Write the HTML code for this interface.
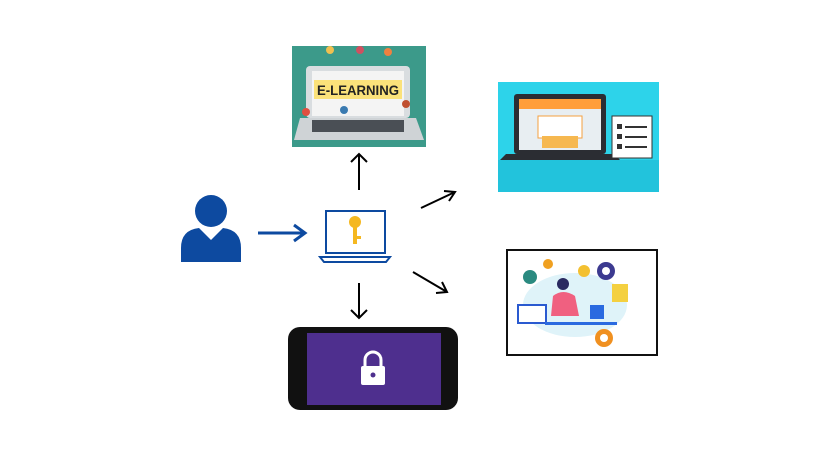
<!DOCTYPE html>
<html><head><style>body{margin:0;background:#fff}svg{display:block}</style></head><body>
<svg width="828" height="466" viewBox="0 0 828 466" xmlns="http://www.w3.org/2000/svg">
<rect width="828" height="466" fill="#fff"/>
<!-- E-learning -->
<rect x="292" y="46" width="134" height="101" fill="#3c9a8a"/>
<rect x="306" y="66" width="104" height="52" rx="4" fill="#d9dde0"/>
<rect x="312" y="71" width="92" height="45" fill="#f4f4f4"/>
<rect x="314" y="80" width="88" height="19" fill="#fbe27a"/>
<text x="317" y="95" font-family="Liberation Sans,sans-serif" font-size="14" font-weight="bold" textLength="82" lengthAdjust="spacingAndGlyphs" fill="#222">E-LEARNING</text>
<polygon points="300,118 416,118 424,140 294,140" fill="#cfd3d6"/>
<rect x="312" y="120" width="92" height="12" fill="#4a4f55"/>
<circle cx="330" cy="50" r="4" fill="#f0c050"/><circle cx="360" cy="50" r="4" fill="#d05060"/><circle cx="388" cy="52" r="4" fill="#f08040"/>
<circle cx="306" cy="112" r="4" fill="#e05040"/><circle cx="344" cy="110" r="4" fill="#3a7ab0"/><circle cx="406" cy="104" r="4" fill="#c05030"/>
<!-- top right -->
<rect x="498" y="82" width="161" height="110" fill="#2dd3ea"/>
<rect x="498" y="160" width="161" height="32" fill="#22c3dc"/>
<rect x="514" y="94" width="92" height="60" rx="3" fill="#2b2d33"/>
<rect x="519" y="99" width="82" height="51" fill="#e8eef2"/>
<rect x="519" y="99" width="82" height="10" fill="#ff9e3a"/>
<rect x="538" y="116" width="44" height="22" fill="#fff" stroke="#f4a040"/>
<rect x="542" y="136" width="36" height="12" fill="#f6b850"/>
<polygon points="506,154 614,154 620,160 500,160" fill="#2b2d33"/>
<rect x="612" y="116" width="40" height="42" fill="#fff" stroke="#333"/>
<g fill="#333"><rect x="617" y="124" width="5" height="5"/><rect x="625" y="126" width="22" height="2"/><rect x="617" y="134" width="5" height="5"/><rect x="625" y="136" width="22" height="2"/><rect x="617" y="144" width="5" height="5"/><rect x="625" y="146" width="22" height="2"/></g>
<!-- bottom right -->
<rect x="507" y="250" width="150" height="105" fill="#fff" stroke="#111" stroke-width="2"/>
<ellipse cx="575" cy="305" rx="52" ry="32" fill="#dff3f9"/>
<circle cx="530" cy="277" r="7" fill="#2a8a80"/><circle cx="548" cy="264" r="5" fill="#f0a020"/>
<circle cx="584" cy="271" r="6" fill="#f3c030"/><circle cx="606" cy="271" r="9" fill="#3c3a90"/><circle cx="606" cy="271" r="4" fill="#fff"/>
<rect x="612" y="284" width="16" height="18" fill="#f4d040"/>
<rect x="518" y="305" width="28" height="18" fill="#fff" stroke="#2a5ad0" stroke-width="2"/>
<circle cx="563" cy="284" r="6" fill="#2a2a60"/>
<path d="M553 296 q10 -8 22 0 l4 20 h-28z" fill="#f06080"/>
<rect x="590" y="305" width="14" height="14" fill="#2a6ae0"/>
<rect x="545" y="322" width="72" height="3" fill="#2a6ae0"/>
<circle cx="604" cy="338" r="9" fill="#f09020"/><circle cx="604" cy="338" r="4" fill="#fff"/>
<!-- person -->
<g fill="#0d4aa0"><circle cx="211" cy="211" r="16"/><path d="M181 262 v-14 q0 -18 18 -20 l12 12 l12 -12 q18 2 18 20 v14z"/></g>
<path d="M258 233 H304 M294 225 L305 233 L294 241" stroke="#0d4aa0" stroke-width="3" fill="none"/>
<!-- laptop with key -->
<rect x="326" y="211" width="59" height="42" fill="#fff" stroke="#0d4aa0" stroke-width="2"/>
<path d="M320 257 H390 L386 262 H324Z" fill="#fff" stroke="#0d4aa0" stroke-width="2"/>
<circle cx="355" cy="222" r="6" fill="#f5b820"/><rect x="353" y="226" width="4" height="18" fill="#f5b820"/><rect x="357" y="236" width="4" height="3" fill="#f5b820"/>
<!-- black arrows -->
<g stroke="#000" stroke-width="2" fill="none">
<path d="M359 190 V154 M351 162 L359 154 L367 162"/>
<path d="M359 283 V318 M351 310 L359 318 L367 310"/>
<path d="M421 208 L455 192 M444 191 L455 192 L449 201"/>
<path d="M413 272 L447 292 M442 282 L447 292 L436 293"/>
</g>
<!-- phone -->
<rect x="288" y="327" width="170" height="83" rx="12" fill="#111"/>
<rect x="307" y="333" width="134" height="72" fill="#4e2f8e"/>
<path d="M365 366 v-6 a8 8 0 0 1 16 0 v6" stroke="#fff" stroke-width="3" fill="none"/>
<rect x="361" y="366" width="24" height="19" rx="2" fill="#fff"/>
<circle cx="373" cy="375" r="2.5" fill="#4e2f8e"/>
</svg>
</body></html>
